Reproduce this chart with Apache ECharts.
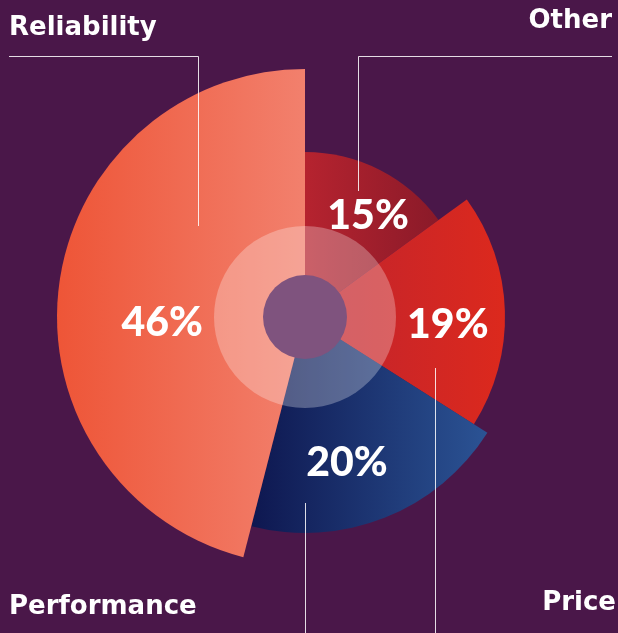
<!DOCTYPE html>
<html>
<head>
<meta charset="utf-8">
<script src="https://cdn.jsdelivr.net/npm/echarts@6/dist/echarts.min.js"></script>
<style>
  html, body { margin: 0; padding: 0; background: #4a1749; }
  #chart { width: 618px; height: 633px; }
</style>
</head>
<body>
<div id="chart"></div>
<script>
// Slices clockwise from 12 o'clock
const categories = ['Other', 'Price', 'Performance', 'Reliability'];
const shares = [15, 19, 20, 46];

// layout
const center = [305, 317];
const outerRadius = [165, 200, 216, 248];
const labelPolar = [[32, 119], [93, 143], [164, 152], [267.6, 143]]; // [deg from top, radius]
const gradStops = [
  ['#b6232f', '#8a1a29'],
  ['#bf232e', '#dc291d'],
  ['#0e1750', '#2b5394'],
  ['#ee5537', '#f2806d']
];
const titleFont = 'DejaVu Sans';
const numFont = 'Lato';

const chart = echarts.init(document.getElementById('chart'));

function grad(i) {
  return new echarts.graphic.LinearGradient(0, 0, 1, 0, [
    { offset: 0, color: gradStops[i][0] },
    { offset: 1, color: gradStops[i][1] }
  ]);
}

const sliceSeries = categories.map((name, i) => ({
  name: name,
  type: 'pie',
  center: center,
  radius: [0, outerRadius[i]],
  startAngle: 90,
  clockwise: true,
  silent: true,
  animation: false,
  data: shares.map((v, j) => ({
    name: categories[j],
    value: v,
    itemStyle: { color: j === i ? grad(i) : 'rgba(0,0,0,0)', borderWidth: 0 },
    label: { show: j === i }
  })),
  label: {
    position: 'inside',
    formatter: '{c}%',
    color: '#fff',
    fontFamily: numFont,
    fontWeight: 900,
    fontSize: 41
  },
  labelLine: { show: false },
  labelLayout: function (p) {
    if (p.dataIndex !== i) return {};
    const a = labelPolar[i][0] * Math.PI / 180;
    const r = labelPolar[i][1];
    return {
      x: center[0] + r * Math.sin(a),
      y: center[1] - r * Math.cos(a),
      align: 'center',
      verticalAlign: 'middle'
    };
  }
}));

function disc(r, color) {
  return {
    type: 'pie',
    center: center,
    radius: [0, r],
    silent: true,
    animation: false,
    label: { show: false },
    labelLine: { show: false },
    itemStyle: { color: color, borderWidth: 0 },
    data: [{ value: 1 }]
  };
}

// annotation lines and names
const titles = [
  { text: categories[0], x: 612, y: 21, align: 'right' },
  { text: categories[1], x: 616, y: 603, align: 'right' },
  { text: categories[2], x: 9, y: 607, align: 'left' },
  { text: categories[3], x: 9, y: 28, align: 'left' }
];
const leaders = [
  [[612, 56.5], [358.5, 56.5], [358.5, 191]],
  [[435.5, 368], [435.5, 633]],
  [[305.5, 503], [305.5, 633]],
  [[9, 56.5], [198.5, 56.5], [198.5, 226]]
];

chart.setOption({
  backgroundColor: '#4a1749',
  series: sliceSeries.concat([
    disc(91, 'rgba(255,255,255,0.28)'),
    disc(42, '#7f537e')
  ]),
  graphic: titles.map(t => ({
    type: 'text',
    x: t.x,
    y: t.y,
    z: 10,
    style: {
      text: t.text,
      fill: '#fff',
      font: 'bold 26px "' + titleFont + '"',
      textAlign: t.align,
      textVerticalAlign: 'middle'
    }
  })).concat(leaders.map(pts => ({
    type: 'polyline',
    z: 10,
    shape: { points: pts },
    style: { stroke: 'rgba(255,255,255,0.85)', lineWidth: 1, fill: null }
  })))
});
</script>
</body>
</html>
